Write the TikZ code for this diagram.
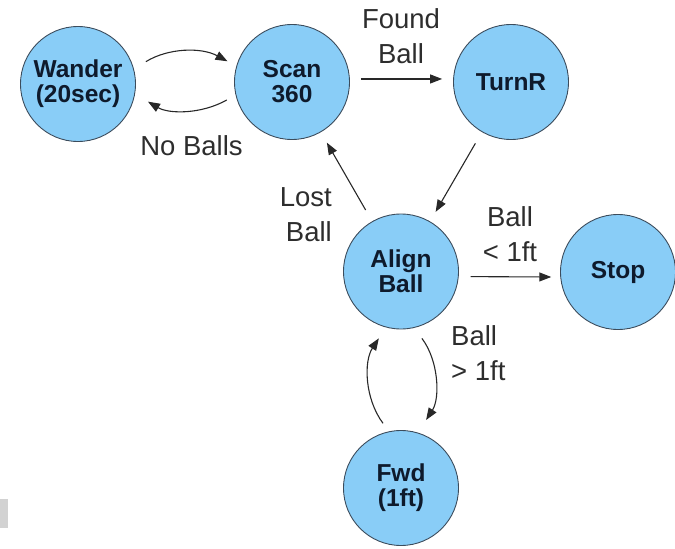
\documentclass[tikz,border=0pt]{standalone}
\usepackage{fontspec}
\setmainfont{Liberation Sans}
\usetikzlibrary{arrows.meta}
\definecolor{statefill}{RGB}{137,205,247}
\definecolor{stateedge}{RGB}{60,76,92}
\definecolor{statetext}{RGB}{14,26,44}
\definecolor{linegray}{RGB}{40,40,40}
\definecolor{labelgray}{RGB}{45,45,45}
\begin{document}
\begin{tikzpicture}[x=1pt,y=-1pt,
  state/.style={circle, minimum size=115pt, inner sep=0pt, fill=statefill,
    draw=stateedge, line width=0.9pt, text=statetext, align=center,
    font=\fontsize{24.5}{25}\selectfont\bfseries},
  arr/.style={draw=linegray, line width=1.1pt, -{Triangle[length=12pt,width=9pt]}},
  lbl/.style={font=\fontsize{27.5}{35}\selectfont, text=labelgray, inner sep=0pt}]
\useasboundingbox (0,0) rectangle (675,549);

% small grey patch at the left border
\fill[gray!35] (0,499) rectangle (8,528);

% states
\node[state] (wander) at (78,84) {Wander\\(20sec)};
\node[state] (scan) at (292,82) {Scan\\360};
\node[state] (turnr) at (511,82) {TurnR};
\node[state] (align) at (401,271.5) {Align\\Ball};
\node[state] (stop) at (618,272) {Stop};
\node[state] (fwd) at (401,488) {Fwd\\(1ft)};

% transitions
\draw[arr, shorten <=14pt, shorten >=10pt] (wander.15) to[bend left=30] (scan.164);
\draw[arr, shorten <=10pt, shorten >=15pt] (scan.193) to[bend left=30] (wander.-10);
\draw[arr, shorten <=11pt, shorten >=11pt] (scan.3) -- (turnr.177);
\draw[arr, shorten <=13pt, shorten >=11pt] (turnr) -- (align);
\draw[arr, shorten <=13pt, shorten >=12pt] (align) -- (scan);
\draw[arr, shorten <=12pt, shorten >=9pt] (align.-5) -- (stop.185);
\draw[arr, shorten <=13pt, shorten >=15pt] (align.-77) to[bend left=35] (fwd.73);
\draw[arr, shorten <=10pt, shorten >=13pt] (fwd.102) to[bend left=35] (align.-105);

% transition labels
\node[lbl, align=center] (lfound) at (401,36) {Found\\Ball};
\node[lbl] (lnoballs) at (191.5,146) {No Balls};
\node[lbl, align=right, anchor=east] (llost) at (332,214.5) {Lost\\Ball};
\node[lbl, align=center] (lnear) at (510,234.5) {Ball\\< 1ft};
\node[lbl, align=left, anchor=west] (lfar) at (451,353.5) {Ball\\> 1ft};
\end{tikzpicture}
\end{document}
